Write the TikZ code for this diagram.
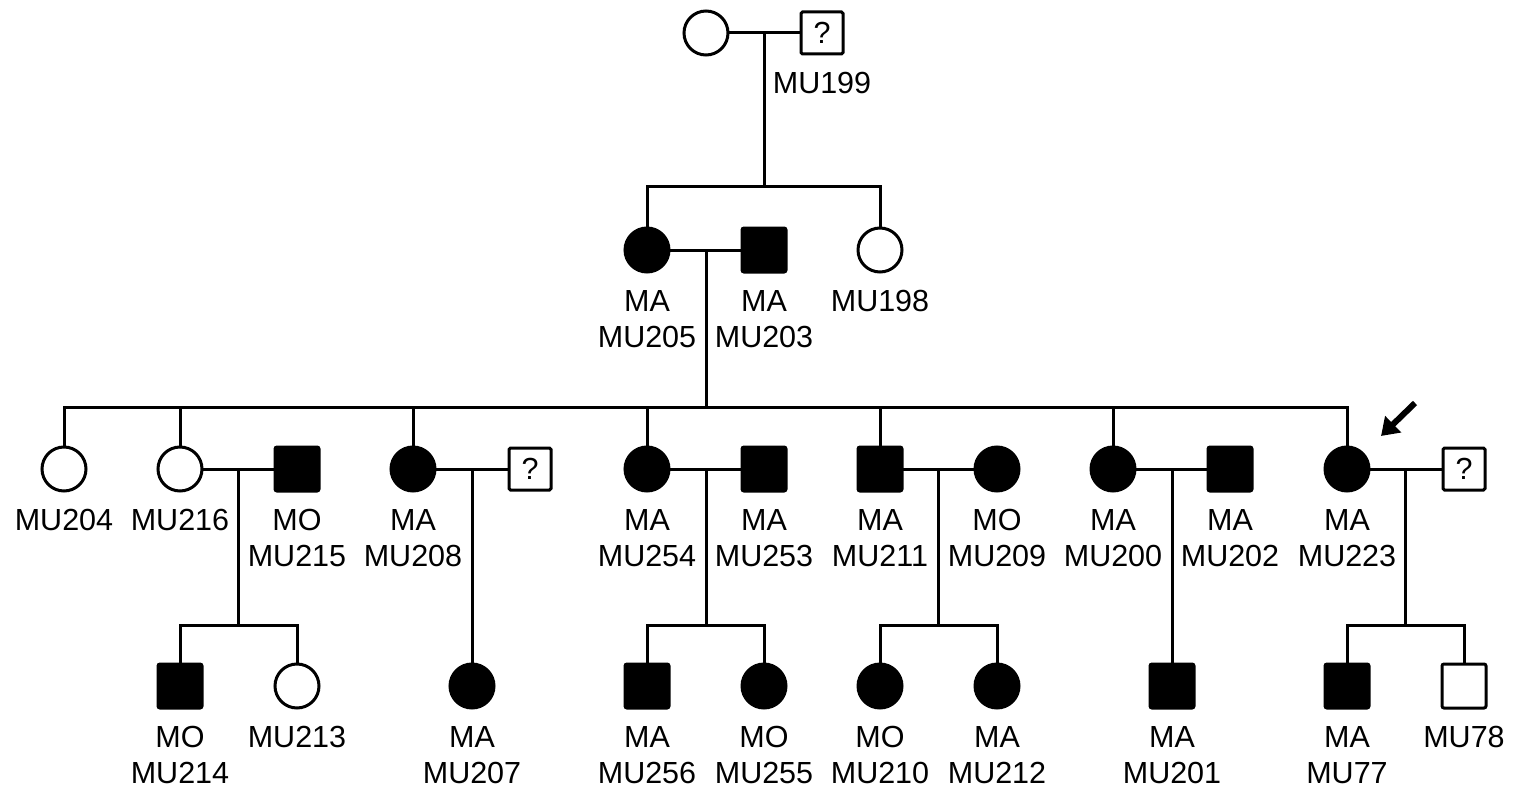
\documentclass[tikz,border=0pt]{standalone}
\usepackage{fontspec}
\setmainfont{Liberation Sans}
\usetikzlibrary{calc,arrows.meta}
\tikzset{
  base/.style={draw=black,line width=3pt,inner sep=0pt,outer sep=0pt},
  fem/.style={base,circle,minimum size=44pt},
  femA/.style={fem,fill=black},
  mal/.style={base,rectangle,minimum size=44pt,rounded corners=2pt},
  malA/.style={mal,fill=black},
  unk/.style={base,rectangle,minimum size=42pt,rounded corners=1.5pt,font=\fontsize{30.5}{36}\selectfont},
  lab/.style={anchor=base,inner sep=0pt,font=\fontsize{30.5}{36}\selectfont},
  ln/.style={line width=3pt},
  pointer/.style={line width=6pt,-{Triangle[length=17pt,width=22pt]}}
}
\newcommand\pedlab[4]{% name, x, y (center of symbol), text
  \node[lab] (#1) at (#2,#3+61) {#4};}
\newcommand\pedlabb[5]{% name, x, y, line1, line2
  \node[lab] (#1a) at (#2,#3+61) {#4};
  \node[lab] (#1b) at (#2,#3+97) {#5};}
\begin{document}
\begin{tikzpicture}[x=1pt,y=-1pt]
\useasboundingbox (0,0) rectangle (1516,789);
% Generation I
\node[fem] (I1) at (706,33) {};
\node[unk] (I2) at (822,33) {?};
\pedlab{lI2}{822}{33}{MU199}
\draw[ln] (I1.east) -- (I2.west);
\coordinate (dI) at (764,33);
\coordinate (sI) at (764,187);
\coordinate (sIl) at (647,187);
\coordinate (sIr) at (880,187);
% Generation II
\node[femA] (II1) at (647,250) {};
\node[malA] (II2) at (764,250) {};
\node[fem] (II3) at (880,250) {};
\pedlabb{lII1}{647}{250}{MA}{MU205}
\pedlabb{lII2}{764}{250}{MA}{MU203}
\pedlab{lII3}{880}{250}{MU198}
\draw[ln] (dI) -- (sI);
\draw[ln] (II1.north) -- (sIl) -- (sIr) -- (II3.north);
\draw[ln] (II1.east) -- (II2.west);
\coordinate (dII) at (706,250);
\coordinate (sII) at (706,407);
% Generation III
\node[fem] (III1) at (64,469) {};
\node[fem] (III2) at (180,469) {};
\node[malA] (III3) at (297,469) {};
\node[femA] (III4) at (413,469) {};
\node[unk] (III5) at (530,469) {?};
\node[femA] (III6) at (647,469) {};
\node[malA] (III7) at (764,469) {};
\node[malA] (III8) at (880,469) {};
\node[femA] (III9) at (997,469) {};
\node[femA] (III10) at (1113,469) {};
\node[malA] (III11) at (1230,469) {};
\node[femA] (III12) at (1347,469) {};
\node[unk] (III13) at (1464,469) {?};
\pedlab{lIII1}{64}{469}{MU204}
\pedlab{lIII2}{180}{469}{MU216}
\pedlabb{lIII3}{297}{469}{MO}{MU215}
\pedlabb{lIII4}{413}{469}{MA}{MU208}
\pedlabb{lIII6}{647}{469}{MA}{MU254}
\pedlabb{lIII7}{764}{469}{MA}{MU253}
\pedlabb{lIII8}{880}{469}{MA}{MU211}
\pedlabb{lIII9}{997}{469}{MO}{MU209}
\pedlabb{lIII10}{1113}{469}{MA}{MU200}
\pedlabb{lIII11}{1230}{469}{MA}{MU202}
\pedlabb{lIII12}{1347}{469}{MA}{MU223}
\draw[ln] (dII) -- (sII);
\draw[ln] (III1.north) |- (III12.north |- sII) -- (III12.north);
\foreach \n in {III2,III4,III6,III8,III10}
  \draw[ln] (\n.north) -- (\n.north |- sII);
% marriages III
\foreach \a/\b in {III2/III3,III4/III5,III6/III7,III8/III9,III10/III11,III12/III13}
  \draw[ln] (\a.east) -- (\b.west);
% Generation IV
\node[malA] (IV1) at (180,686) {};
\node[fem] (IV2) at (297,686) {};
\node[femA] (IV3) at (472,686) {};
\node[malA] (IV4) at (647,686) {};
\node[femA] (IV5) at (764,686) {};
\node[femA] (IV6) at (880,686) {};
\node[femA] (IV7) at (997,686) {};
\node[malA] (IV8) at (1172,686) {};
\node[malA] (IV9) at (1347,686) {};
\node[mal] (IV10) at (1464,686) {};
\pedlabb{lIV1}{180}{686}{MO}{MU214}
\pedlab{lIV2}{297}{686}{MU213}
\pedlabb{lIV3}{472}{686}{MA}{MU207}
\pedlabb{lIV4}{647}{686}{MA}{MU256}
\pedlabb{lIV5}{764}{686}{MO}{MU255}
\pedlabb{lIV6}{880}{686}{MO}{MU210}
\pedlabb{lIV7}{997}{686}{MA}{MU212}
\pedlabb{lIV8}{1172}{686}{MA}{MU201}
\pedlabb{lIV9}{1347}{686}{MA}{MU77}
\pedlab{lIV10}{1464}{686}{MU78}
% descents III -> IV
\coordinate (d1) at (238,469);
\coordinate (s1) at (238,625);
\draw[ln] (d1) -- (s1);
\draw[ln] (IV1.north) |- (IV2.north |- s1) -- (IV2.north);
\coordinate (d2) at (472,469);
\draw[ln] (d2) -- (IV3.north);
\coordinate (d3) at (706,469);
\coordinate (s3) at (706,625);
\draw[ln] (d3) -- (s3);
\draw[ln] (IV4.north) |- (IV5.north |- s3) -- (IV5.north);
\coordinate (d4) at (938,469);
\coordinate (s4) at (938,625);
\draw[ln] (d4) -- (s4);
\draw[ln] (IV6.north) |- (IV7.north |- s4) -- (IV7.north);
\coordinate (d5) at (1172,469);
\draw[ln] (d5) -- (IV8.north);
\coordinate (d6) at (1405,469);
\coordinate (s6) at (1405,625);
\draw[ln] (d6) -- (s6);
\draw[ln] (IV9.north) |- (IV10.north |- s6) -- (IV10.north);
% proband arrow
\coordinate (arrT) at (1415,403);
\coordinate (arrH) at (1381,436);
\draw[pointer] (arrT) -- (arrH);
\end{tikzpicture}
\end{document}
